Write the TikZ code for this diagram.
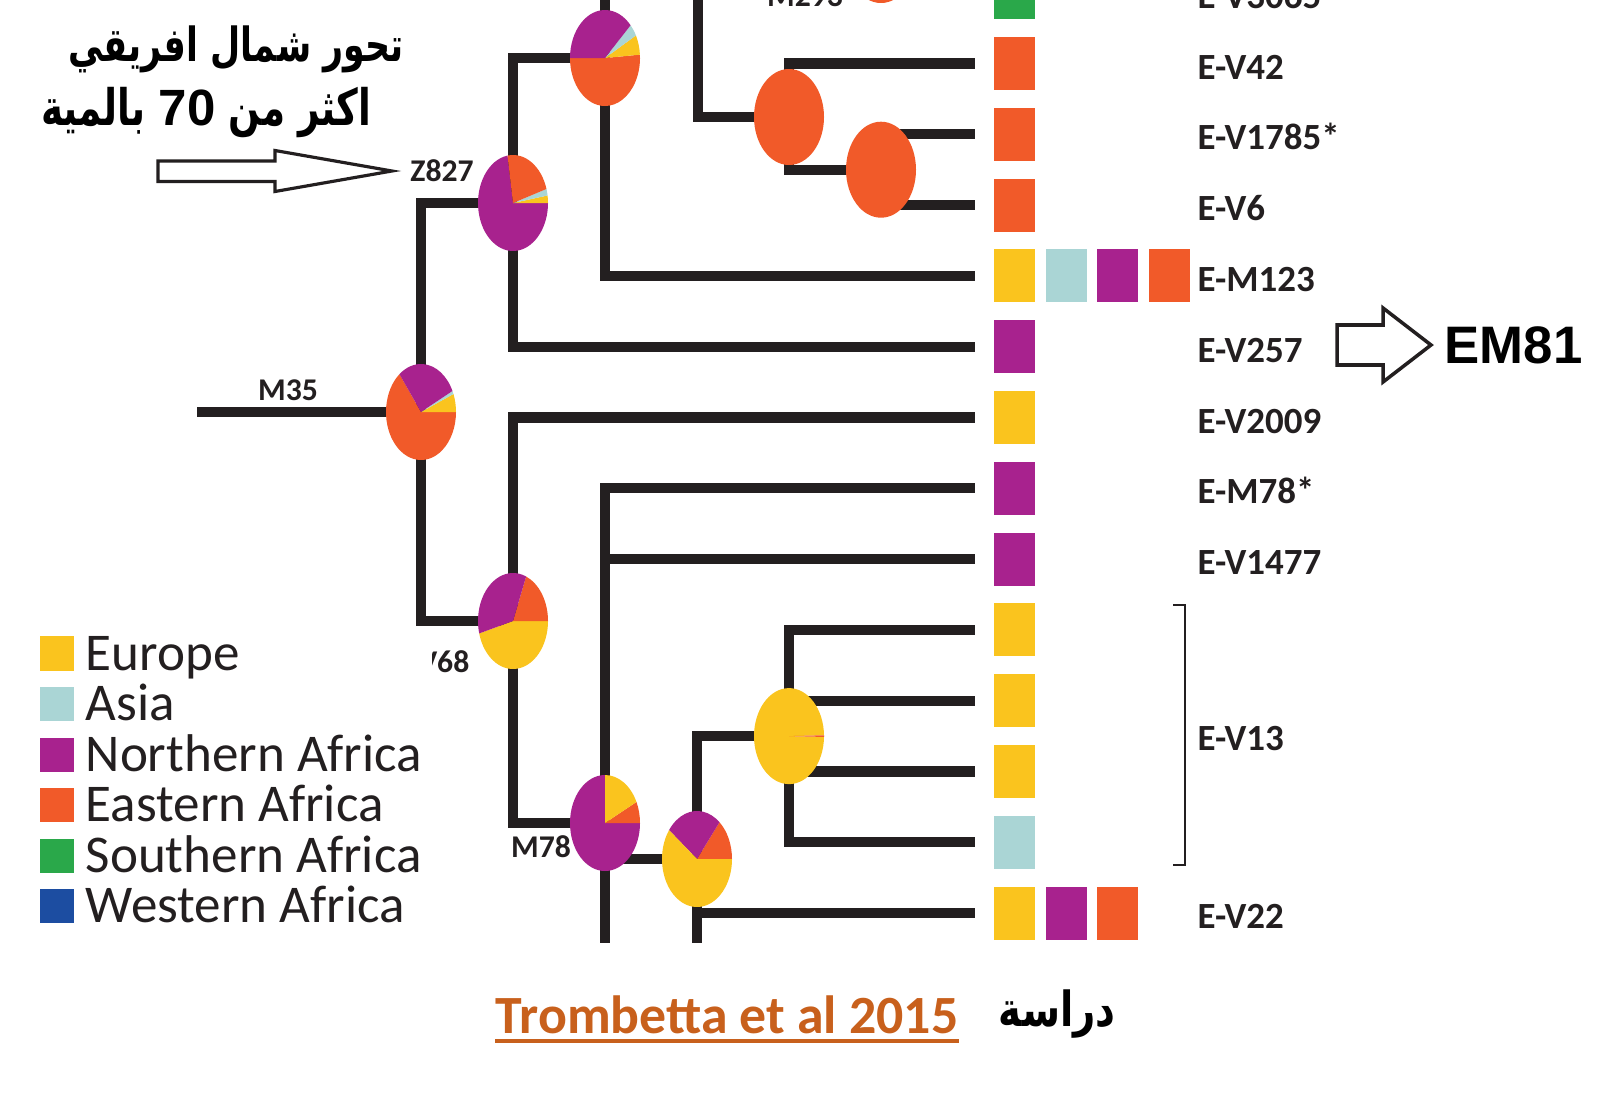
\documentclass[tikz,border=0pt]{standalone}
\usepackage{fontspec}
\setmainfont{Carlito}
\newfontfamily\arabicfont[Script=Arabic]{DejaVu Sans}
\newfontfamily\arialfont{Liberation Sans}
\TeXXeTstate=1
\usetikzlibrary{positioning}

\definecolor{eu}{RGB}{250,196,30}
\definecolor{as}{RGB}{170,213,213}
\definecolor{na}{RGB}{168,34,142}
\definecolor{ea}{RGB}{241,90,41}
\definecolor{sa}{RGB}{42,168,74}
\definecolor{wa}{RGB}{28,77,161}
\definecolor{ink}{RGB}{35,31,32}
\definecolor{cite}{RGB}{200,96,28}

% pie of elliptic slices: centre, list start/end/colour
\newcommand{\pieslices}[2]{%
  \foreach \ps/\pe/\pc in {#2}
    \fill[\pc] (#1) -- ++(\ps:35 and 48) arc[start angle=\ps, end angle=\pe, x radius=35, y radius=48] -- cycle;
}
% tall arabic words
\newcommand{\tallar}[1]{\scalebox{1}[1.35]{\beginR #1\endR}}

\begin{document}
\begin{tikzpicture}[x=0.01cm, y=0.01cm,
    branch/.style={ink, line width=2.9pt},
    sq/.style={rectangle, inner sep=0pt, outer sep=0pt, minimum width=0.41cm, minimum height=0.53cm},
    key/.style={rectangle, inner sep=0pt, minimum size=0.34cm},
    leaf/.style={anchor=base west, inner sep=0pt, text=ink, font=\bfseries\fontsize{10.5}{12}\selectfont},
    snp/.style={inner sep=0pt, text=ink, font=\bfseries\fontsize{9}{11}\selectfont},
    region/.style={anchor=base west, inner sep=0pt, text=ink, font=\fontsize{15.1}{18}\selectfont}]
\useasboundingbox (0,0) rectangle (1600,-1109);
\clip (0,0) rectangle (1600,-1109);
\fill[white] (0,0) rectangle (1600,-1109);

% internal nodes of the tree
\coordinate (root) at (197,-412);
\coordinate (m35) at (421,-412);
\coordinate (z827) at (513,-203);
\coordinate (tp) at (605,-58);
\coordinate (tpup) at (605,10);
\coordinate (o1up) at (698,10);
\coordinate (o1) at (789,-117);
\coordinate (o2) at (881,-169.7);
\coordinate (m293) at (881,45);
\coordinate (v68) at (513,-621);
\coordinate (m78) at (605,-823);
\coordinate (m78dn) at (605,-943);
\coordinate (p2) at (697,-859);
\coordinate (p2dn) at (697,-943);
\coordinate (ev13) at (789,-736.1);
\foreach \i in {1,...,13}
  \coordinate (e\i) at (975, {7.3-70.8*\i});

% branches
\draw[branch] (root) -- (m35);
\draw[branch] (m35) |- (z827);
\draw[branch] (m35) |- (v68);
\draw[branch] (z827) |- (tp);
\draw[branch] (z827) |- (e5);
\draw[branch] (tp) |- (e4);
\draw[branch] (tp) -- (tpup);
\draw[branch] (o1up) |- (o1);
\draw[branch] (o1) |- (e1);
\draw[branch] (o1) |- (o2);
\draw[branch] (o2) |- (e2);
\draw[branch] (o2) |- (e3);
\draw[branch] (v68) |- (e6);
\draw[branch] (v68) |- (m78);
\draw[branch] (m78) |- (e7);
\draw[branch] (m78) |- (e8);
\draw[branch] (m78) |- (p2);
\draw[branch] (m78) -- (m78dn);
\draw[branch] (p2) |- (ev13);
\draw[branch] (p2) |- (e13);
\draw[branch] (p2) -- (p2dn);
\foreach \i in {9,...,12}
  \draw[branch] (ev13) |- (e\i);

% pies
\pieslices{tp}{180/364/ea, 4/28/eu, 28/43/as, 43/180/na}
\pieslices{z827}{99/360/na, 0/9/eu, 9/17/as, 17/99/ea}
\pieslices{m35}{128/360/ea, 0/22/eu, 22/26/as, 26/128/na}
\pieslices{v68}{195/360/eu, 0/68/ea, 68/195/na}
\pieslices{m78}{90/360/na, 0/26/ea, 26/90/eu}
\pieslices{p2}{0/50/ea, 50/143/na, 143/360/eu}
\pieslices{ev13}{1/359/eu, -1/1/ea}
\pieslices{o1}{0/360/ea}
\pieslices{o2}{0/360/ea}
\pieslices{m293}{0/360/ea}

% snp labels
\node[snp] (z827lab) at (442,-171) {Z827};
\node[snp] (m35lab) at (288,-390) {M35};
\node[snp] (m78lab) at (541,-847) {M78};
\node[snp, anchor=base] (m293lab) at (805,-6) {M293};
\begin{scope}
  \clip (432,-630) rectangle (480,-690);
  \node[snp, anchor=base east] (v68lab) at (470,-672) {V68};
\end{scope}

% regions of each haplogroup
\foreach \i/\col in {0/sa,1/ea,2/ea,3/ea,4/eu,5/na,6/eu,7/na,8/na,9/eu,10/eu,11/eu,12/as,13/eu}
  \node[sq, fill=\col] (s\i) at (1014.5, {7.3-70.8*\i}) {};
\node[sq, fill=as, right=0.105cm of s4] (s4b) {};
\node[sq, fill=na, right=0.105cm of s4b] (s4c) {};
\node[sq, fill=ea, right=0.105cm of s4c] (s4d) {};
\node[sq, fill=na, right=0.105cm of s13] (s13b) {};
\node[sq, fill=ea, right=0.105cm of s13b] (s13c) {};

% haplogroup names
\foreach \i/\txt in {0/E-V3065, 1/E-V42, 2/E-V1785*, 3/E-V6, 4/E-M123, 5/E-V257, 6/E-V2009, 7/E-M78*, 8/E-V1477, 13/E-V22}
  \node[leaf] (t\i) at (1197, {-8.2-70.8*\i}) {\txt};
\node[leaf] (tv13) at (1197,-750) {E-V13};
\draw[ink, line width=0.8pt] (1173,-605) -| (1185,-865) -- (1173,-865);

% EM81 pointer
\node[font=\arialfont\bfseries\fontsize{15}{18}\selectfont, inner sep=0pt, anchor=west] (em81) at (1444,-345) {EM81};
\draw[ink, line width=1pt] (1337,-325) -- (1383,-325) -- (1383,-308) -- (1431,-345) -- (1383,-382) -- (1383,-365) -- (1337,-365) -- cycle;

% arabic note
\node[font=\arabicfont\bfseries\fontsize{9.9}{12}\selectfont, inner sep=0pt] (note1) at (236,-49) {\tallar{تحور شمال افريقي}};
\node[font=\arabicfont\bfseries\fontsize{10.6}{12}\selectfont, inner sep=0pt] (note2) at (206,-113) {\tallar{بالمية} {\arialfont\fontsize{14.5}{16}\selectfont 70} \tallar{اكثر من}};
\draw[ink, line width=0.9pt] (158,-161) -- (275,-161) -- (275,-150.5) -- (392,-171) -- (275,-191.5) -- (275,-181.5) -- (158,-181.5) -- cycle;

% legend
\foreach \i/\col/\txt in {0/eu/Europe, 1/as/Asia, 2/na/Northern Africa, 3/ea/Eastern Africa, 4/sa/Southern Africa, 5/wa/Western Africa} {
  \node[key, fill=\col] (k\i) at (57, {-653.5-50.5*\i}) {};
  \node[region] (r\i) at (85, {-670-50.5*\i}) {\txt};
}

% source
\node[font=\bfseries\fontsize{15.3}{18}\selectfont, text=cite, inner sep=0pt, anchor=base west] (src) at (495,-1033) {Trombetta et al 2015};
\draw[cite, line width=1.2pt] ([yshift=-0.08cm]src.base west) -- ([yshift=-0.08cm]src.base east);
\node[font=\arabicfont\bfseries\fontsize{11}{13}\selectfont, inner sep=0pt] (study) at (1057,-1014) {\scalebox{1}[1.25]{\beginR دراسة\endR}};
\end{tikzpicture}
\end{document}
